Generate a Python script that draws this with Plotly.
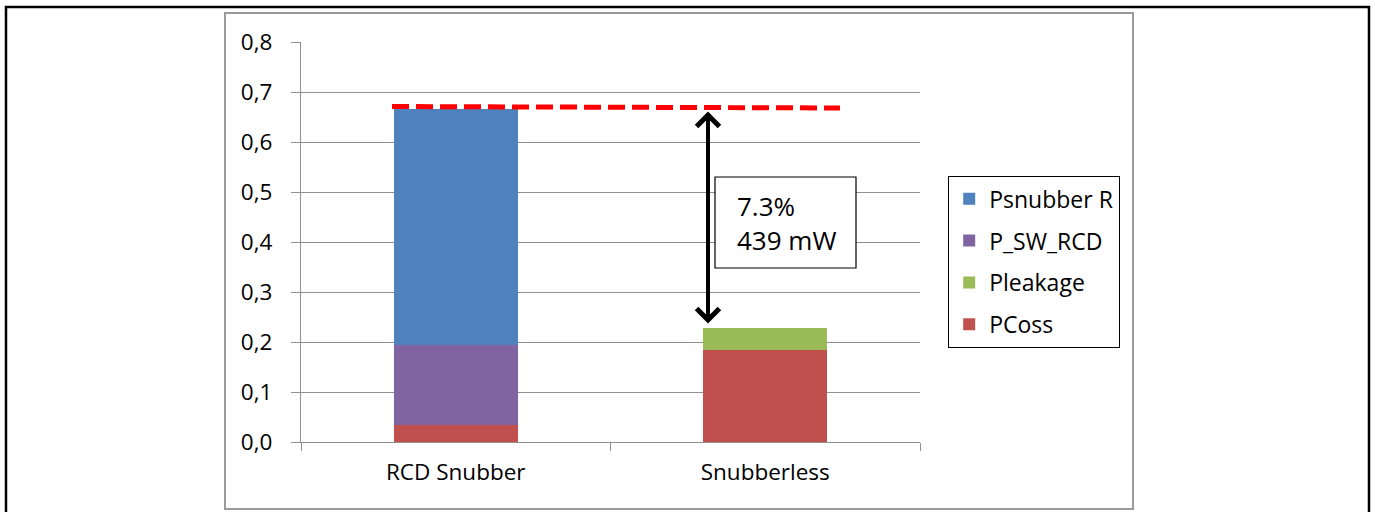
import plotly.graph_objects as go

categories = ["RCD Snubber", "Snubberless"]
series_names = ["PCoss", "Pleakage", "P_SW_RCD", "Psnubber R"]
legend_ranks = [4, 3, 2, 1]
pcoss = [0.034, 0.185]
pleakage = [0.0, 0.043]
p_sw_rcd = [0.161, 0.0]
psnubber_r = [0.472, 0.0]
colors = ["#C0504D", "#9BBB59", "#8064A2", "#4F81BD"]
y_ticks = [0.0, 0.1, 0.2, 0.3, 0.4, 0.5, 0.6, 0.7, 0.8]
ref_level = [0.671, 0.668]          # red dashed line level (start, end)
arrow_top = 0.667                   # RCD total
arrow_bottom = 0.228                # Snubberless total
note_lines = ["7.3%", "439 mW"]

series_values = [pcoss, pleakage, p_sw_rcd, psnubber_r]

fig = go.Figure()
for name, vals, col, rank in zip(series_names, series_values, colors, legend_ranks):
    fig.add_trace(go.Bar(x=categories, y=vals, name=name, marker_color=col,
                         marker_line_width=0, width=0.4, legendgroup=name,
                         legendrank=rank))

W, H = 1375, 512
# plot area in screen coordinates: x 301..920, y 42..442
L = 301
R = W - 920
T = 42
B = H - 442
pw, ph = W - L - R, H - T - B

def px(x):
    return (x - L) / pw

def py(y):
    return (H - B - y) / ph

shapes = [
    dict(type="rect", xref="paper", yref="paper", x0=px(6), x1=px(1369), y0=py(540), y1=py(7),
         line=dict(color="black", width=2.5), layer="below"),
    dict(type="rect", xref="paper", yref="paper", x0=px(225), x1=px(1133), y0=py(509), y1=py(13),
         line=dict(color="#9a9a9a", width=2), layer="below"),
    dict(type="line", xref="x", yref="y", x0=-0.206, x1=1.2415, y0=ref_level[0], y1=ref_level[1],
         line=dict(color="#FF0000", width=5, dash="17px,7px")),
    dict(type="rect", xref="paper", yref="paper", x0=px(715), x1=px(856), y0=py(268), y1=py(177),
         line=dict(color="black", width=1.2), fillcolor="white"),
]

annotations = [
    dict(x=0.815, y=arrow_top - 0.006, ax=0.815, ay=arrow_bottom + 0.006, xref="x", yref="y",
         axref="x", ayref="y", showarrow=True, arrowhead=4, startarrowhead=4,
         arrowside="end+start", arrowwidth=4, arrowsize=1.1, startarrowsize=1.1,
         arrowcolor="black", text=""),
    dict(x=px(735), y=py(223), xref="paper", yref="paper", xanchor="left", yanchor="middle",
         showarrow=False, align="left", text="<br>".join(note_lines),
         font=dict(family="Open Sans", size=26, color="black")),
]

fig.update_layout(
    width=W, height=H, barmode="stack",
    margin=dict(l=L, r=R, t=T, b=B),
    plot_bgcolor="white", paper_bgcolor="white",
    separators=", ",
    font=dict(family="Open Sans", size=22.5, color="black"),
    showlegend=True,
    legend=dict(x=px(948), y=py(176), xanchor="left", yanchor="top",
                traceorder="grouped", tracegroupgap=9,
                bordercolor="black", borderwidth=1.2,
                font=dict(size=23, color="black"), bgcolor="white"),
    shapes=shapes, annotations=annotations,
)
fig.update_yaxes(range=[0, 0.8], tickvals=y_ticks, tickformat=".1f",
                 showgrid=True, gridcolor="#8f8f8f", gridwidth=1.3,
                 showline=True, linecolor="#8f8f8f", linewidth=1.3,
                 ticks="outside", ticklen=9, tickcolor="#8f8f8f", tickwidth=1.3,
                 zeroline=False, ticklabelstandoff=14)
fig.update_xaxes(showline=True, linecolor="#8f8f8f", linewidth=1.3,
                 ticks="outside", ticklen=8, tickcolor="#8f8f8f", tickwidth=1.3,
                 tickson="boundaries", showgrid=False, ticklabelstandoff=10)

fig.write_html("out.html", config={"displayModeBar": False},
               post_script="document.body.style.margin='0';")
